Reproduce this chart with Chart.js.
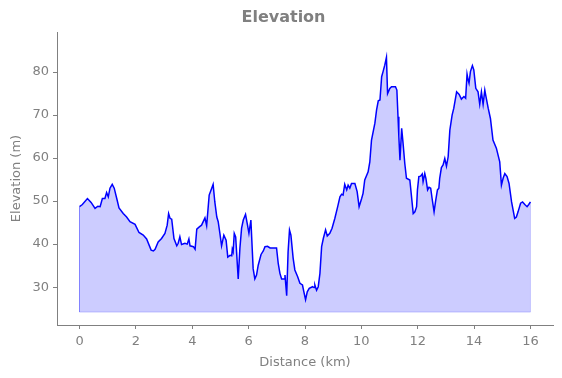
<!DOCTYPE html>
<html>
<head>
<meta charset="utf-8">
<script src="https://cdn.jsdelivr.net/npm/chart.js@4/dist/chart.umd.min.js"></script>
<style>
  html, body { margin: 0; padding: 0; background: #fff; }
  #wrap { width: 562px; height: 378px; }
</style>
</head>
<body>
<div id="wrap"><canvas id="elev-chart"></canvas></div>
<script>
// profile
var distanceKm = [0, 0.10, 0.28, 0.41, 0.55, 0.65, 0.73, 0.81, 0.90, 0.96, 1.02, 1.08, 1.16, 1.23, 1.32, 1.40,
  1.55, 1.67, 1.79, 1.97, 2.11, 2.26, 2.38, 2.54, 2.62, 2.68, 2.79, 2.91, 3.03, 3.11, 3.16, 3.21, 3.27,
  3.35, 3.45, 3.50, 3.56, 3.62, 3.74, 3.82, 3.88, 3.92, 4.04, 4.10, 4.16, 4.25, 4.33, 4.45, 4.51, 4.60,
  4.69, 4.74, 4.80, 4.87, 4.92, 4.98, 5.04, 5.12, 5.20, 5.26, 5.34, 5.40, 5.42, 5.45, 5.49, 5.54, 5.63,
  5.69, 5.75, 5.81, 5.89, 5.96, 6.01, 6.08, 6.11, 6.16, 6.22, 6.28, 6.34, 6.44, 6.52, 6.58, 6.67, 6.76,
  6.87, 6.99, 7.05, 7.11, 7.17, 7.26, 7.29, 7.35, 7.40, 7.45, 7.50, 7.58, 7.64, 7.74, 7.82, 7.91, 7.96,
  8.02, 8.08, 8.15, 8.27, 8.32, 8.35, 8.41, 8.47, 8.53, 8.59, 8.65, 8.73, 8.79, 8.88, 8.96, 9.06, 9.16,
  9.24, 9.30, 9.35, 9.41, 9.48, 9.53, 9.59, 9.65, 9.77, 9.85, 9.92, 10.01, 10.06, 10.12, 10.24, 10.30,
  10.36, 10.48, 10.54, 10.60, 10.66, 10.72, 10.77, 10.83, 10.89, 10.93, 11.01, 11.07, 11.21, 11.26,
  11.30, 11.33, 11.37, 11.43, 11.48, 11.54, 11.60, 11.72, 11.78, 11.84, 11.90, 11.96, 11.99, 12.04,
  12.10, 12.16, 12.19, 12.25, 12.29, 12.35, 12.40, 12.46, 12.51, 12.58, 12.64, 12.70, 12.75, 12.78,
  12.84, 12.90, 12.96, 13.02, 13.08, 13.14, 13.22, 13.28, 13.38, 13.47, 13.55, 13.64, 13.70, 13.75,
  13.79, 13.82, 13.87, 13.94, 13.99, 14.06, 14.14, 14.20, 14.26, 14.32, 14.38, 14.41, 14.50, 14.58,
  14.67, 14.79, 14.91, 14.97, 15.03, 15.09, 15.17, 15.24, 15.33, 15.44, 15.50, 15.56, 15.65, 15.72,
  15.80, 15.88, 15.94, 16.00];
var elevationM = [48.7, 49.2, 50.6, 49.7, 48.3, 48.8, 48.7, 50.6, 50.6, 52.0, 51.0, 53.0, 53.9, 53.0, 50.6, 48.4,
  47.1, 46.3, 45.2, 44.6, 42.7, 42.1, 41.2, 38.6, 38.4, 38.8, 40.5, 41.3, 42.5, 44.4, 47.1, 46.0, 45.8,
  41.3, 39.6, 40.2, 41.7, 39.9, 40.2, 40.0, 41.2, 39.6, 39.4, 38.8, 43.5, 44.0, 44.4, 46.1, 44.3, 51.4,
  53.0, 53.9, 49.8, 46.3, 45.2, 42.5, 39.6, 42.1, 40.9, 37.0, 37.4, 37.3, 38.8, 38.2, 42.5, 41.7, 31.9,
  39.0, 43.7, 45.6, 46.9, 44.4, 42.5, 45.6, 41.3, 34.3, 31.9, 32.8, 35.1, 37.6, 38.4, 39.4, 39.5, 39.1,
  39.1, 39.1, 35.5, 33.2, 31.9, 31.9, 32.8, 28.0, 38.2, 43.3, 42.1, 36.7, 34.0, 32.4, 30.9, 30.5, 28.9,
  27.1, 28.9, 29.7, 30.1, 29.9, 30.5, 29.3, 30.1, 33.2, 39.4, 41.3, 43.3, 41.9, 42.5, 43.7, 46.0, 48.7,
  51.0, 51.6, 51.4, 53.9, 52.6, 53.7, 53.0, 54.1, 54.1, 52.2, 48.7, 50.6, 51.8, 54.9, 56.8, 59.1,
  64.2, 68.1, 71.2, 73.3, 73.5, 78.9, 80.1, 81.6, 83.4, 75.0, 76.2, 76.6, 76.6, 75.8,
  69.6, 65.0, 59.5, 66.9, 63.4, 58.8, 55.3, 54.9, 51.0, 47.1, 47.5, 48.7, 52.6, 55.7,
  55.8, 56.3, 54.5, 56.4, 55.3, 52.6, 53.2, 53.0, 50.6, 47.5, 50.2, 52.6, 53.0, 55.3,
  57.8, 58.4, 59.9, 58.1, 60.3, 66.5, 70.0, 71.6, 75.4, 74.8, 73.7, 74.3, 73.9, 79.5,
  78.1, 77.4, 80.1, 81.5, 80.5, 76.2, 75.4, 72.5, 75.4, 72.5, 75.8, 74.7, 71.6, 69.2,
  64.2, 62.3, 59.1, 53.7, 55.3, 56.4, 55.7, 54.1, 49.8, 46.0, 46.3, 47.5, 49.5, 49.8,
  49.2, 48.7, 49.2, 49.8];
var fillBase = 24.2;
var xTicks = [0, 2, 4, 6, 8, 10, 12, 14, 16];
var yTicks = [30, 40, 50, 60, 70, 80];
var chartTitle = 'Elevation';
var xLabel = 'Distance (km)';
var yLabel = 'Elevation (m)';

var textGray = '#808080';
var axisGray = '#808080';

var profile = [];
for (var i = 0; i < distanceKm.length; i++) {
  profile.push({ x: distanceKm[i], y: elevationM[i] });
}
var last = distanceKm.length - 1;
// outline of the shaded band at the ends and the bottom
var bandEdge = [
  { x: distanceKm[0], y: elevationM[0] },
  { x: distanceKm[0], y: fillBase },
  { x: distanceKm[last], y: fillBase },
  { x: distanceKm[last], y: elevationM[last] }
];

var titlePlugin = {
  id: 'plainTitle',
  afterDraw: function(chart) {
    var ctx = chart.ctx;
    ctx.save();
    ctx.font = 'bold 16px "DejaVu Sans"';
    ctx.fillStyle = textGray;
    ctx.textAlign = 'center';
    ctx.textBaseline = 'middle';
    ctx.fillText(chartTitle, 283.5, 18);
    ctx.restore();
  }
};

var ctx = document.getElementById('elev-chart');
var elevChart = new Chart(ctx, {
  type: 'line',
  data: {
    datasets: [
      {
        data: profile,
        borderColor: '#0000ff',
        borderWidth: 1.5,
        pointRadius: 0,
        tension: 0,
        fill: { value: fillBase },
        backgroundColor: 'rgba(0,0,255,0.2)',
        order: 1
      },
      {
        data: bandEdge,
        borderColor: 'rgba(0,0,255,0.2)',
        borderWidth: 1,
        pointRadius: 0,
        fill: false,
        order: 2
      }
    ]
  },
  plugins: [titlePlugin],
  options: {
    responsive: true,
    maintainAspectRatio: false,
    animation: false,
    events: [],
    layout: { padding: { top: 32, right: 9, left: 0, bottom: 0 } },
    plugins: {
      legend: { display: false },
      title: { display: false },
      tooltip: { enabled: false }
    },
    scales: {
      x: {
        type: 'linear',
        min: -0.8,
        max: 16.8,
        afterBuildTicks: function(scale) {
          scale.ticks = xTicks.map(function(v) { return { value: v }; });
        },
        afterFit: function(scale) { scale.height = 53; },
        border: { display: true, color: axisGray, width: 1 },
        grid: { display: true, drawOnChartArea: false, drawTicks: true, tickLength: 4, color: axisGray },
        ticks: { color: textGray, font: { family: 'DejaVu Sans', size: 13 }, padding: 5, maxRotation: 0 },
        title: { display: true, text: xLabel, color: textGray, font: { family: 'DejaVu Sans', size: 13 }, padding: { top: 0, bottom: 8 } }
      },
      y: {
        type: 'linear',
        min: 21.2,
        max: 89.3,
        afterBuildTicks: function(scale) {
          scale.ticks = yTicks.map(function(v) { return { value: v }; });
        },
        afterFit: function(scale) { scale.width = 57; },
        border: { display: true, color: axisGray, width: 1 },
        grid: { display: true, drawOnChartArea: false, drawTicks: true, tickLength: 4, color: axisGray },
        ticks: { color: textGray, font: { family: 'DejaVu Sans', size: 13 }, padding: 4 },
        title: { display: true, text: yLabel, color: textGray, font: { family: 'DejaVu Sans', size: 13 }, padding: { top: 9, bottom: 0 } }
      }
    }
  }
});
</script>
</body>
</html>
